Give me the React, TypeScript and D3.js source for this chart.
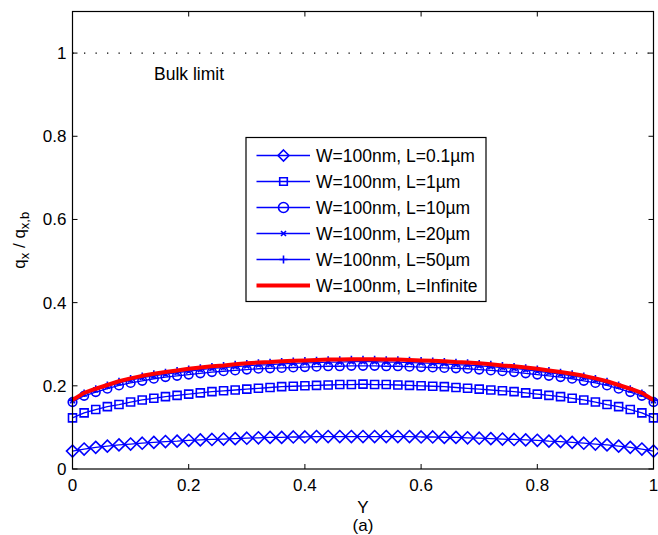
import React from 'react';
import * as d3 from 'd3';

const Y_GRID = d3.range(51).map((i) => i / 50);

const L01 = [0.043,0.048,0.052,0.055,0.058,0.060,0.062,0.064,0.066,0.067,0.069,0.070,0.071,0.072,0.073,0.074,0.075,0.076,0.076,0.077,0.077,0.078,0.078,0.078,0.078,0.078,0.078,0.078,0.078,0.078,0.077,0.077,0.076,0.076,0.075,0.074,0.073,0.072,0.071,0.070,0.069,0.067,0.066,0.064,0.062,0.060,0.058,0.055,0.052,0.048,0.043];
const L1 = [0.123,0.135,0.143,0.150,0.155,0.161,0.166,0.170,0.174,0.177,0.180,0.183,0.186,0.188,0.190,0.192,0.194,0.196,0.198,0.199,0.200,0.201,0.202,0.203,0.203,0.204,0.203,0.203,0.202,0.201,0.200,0.199,0.198,0.196,0.194,0.192,0.190,0.188,0.186,0.183,0.180,0.177,0.174,0.170,0.166,0.161,0.155,0.150,0.143,0.135,0.123];
const L10 = [0.161,0.176,0.185,0.193,0.201,0.207,0.212,0.217,0.221,0.224,0.227,0.230,0.233,0.235,0.237,0.239,0.241,0.242,0.243,0.244,0.245,0.246,0.247,0.247,0.248,0.248,0.248,0.247,0.247,0.246,0.245,0.244,0.243,0.242,0.241,0.239,0.237,0.235,0.233,0.230,0.227,0.224,0.221,0.217,0.212,0.207,0.201,0.193,0.185,0.176,0.161];
const L20 = [0.164,0.180,0.190,0.199,0.207,0.214,0.220,0.224,0.228,0.232,0.235,0.239,0.242,0.244,0.246,0.248,0.250,0.251,0.253,0.254,0.255,0.256,0.257,0.257,0.258,0.258,0.258,0.257,0.257,0.256,0.255,0.254,0.253,0.251,0.250,0.248,0.246,0.244,0.242,0.239,0.235,0.232,0.228,0.224,0.220,0.214,0.207,0.199,0.190,0.180,0.164];
const L50 = [0.165,0.182,0.192,0.201,0.210,0.217,0.223,0.228,0.232,0.236,0.240,0.243,0.246,0.248,0.251,0.253,0.255,0.256,0.258,0.259,0.260,0.261,0.262,0.262,0.263,0.263,0.263,0.262,0.262,0.261,0.260,0.259,0.258,0.256,0.255,0.253,0.251,0.248,0.246,0.243,0.240,0.236,0.232,0.228,0.223,0.217,0.210,0.201,0.192,0.182,0.165];
const LINF = [0.166,0.183,0.193,0.202,0.211,0.218,0.224,0.229,0.233,0.237,0.241,0.244,0.247,0.249,0.252,0.254,0.256,0.257,0.259,0.260,0.261,0.262,0.263,0.263,0.264,0.264,0.264,0.263,0.263,0.262,0.261,0.260,0.259,0.257,0.256,0.254,0.252,0.249,0.247,0.244,0.241,0.237,0.233,0.229,0.224,0.218,0.211,0.202,0.193,0.183,0.166];

const SERIES_LABELS = [
  'W=100nm, L=0.1µm',
  'W=100nm, L=1µm',
  'W=100nm, L=10µm',
  'W=100nm, L=20µm',
  'W=100nm, L=50µm',
  'W=100nm, L=Infinite',
];
const SERIES_VALUES = [L01, L1, L10, L20, L50, LINF];
const SERIES_MARKERS = ['diamond', 'square', 'circle', 'x', 'plus', 'none'];

const X_TICKS = [0, 0.2, 0.4, 0.6, 0.8, 1];
const Y_TICKS = [0, 0.2, 0.4, 0.6, 0.8, 1];
const BULK = 1;

const FONT = '"Liberation Sans", Arial, Helvetica, sans-serif';
const BLUE = '#0000ff';

function markerPath(type: string, s: number): string {
  switch (type) {
    case 'diamond':
      return `M0,${-s}L${s},0L0,${s}L${-s},0Z`;
    case 'square':
      return `M${-s},${-s}H${s}V${s}H${-s}Z`;
    case 'circle':
      return `M${s},0A${s},${s} 0 1,1 ${-s},0A${s},${s} 0 1,1 ${s},0Z`;
    case 'x':
      return `M${-s},${-s}L${s},${s}M${-s},${s}L${s},${-s}`;
    case 'plus':
      return `M0,${-s}V${s}M${-s},0H${s}`;
    default:
      return '';
  }
}
const MARK_SIZE: Record<string, number> = { diamond: 6, square: 4, circle: 4.3, x: 2.5, plus: 3.8 };
const LEG_SIZE: Record<string, number> = { diamond: 5.5, square: 3.8, circle: 5, x: 2.5, plus: 4 };

export default function App() {
  const W = 658, H = 535;
  const left = 72.5, right = 653.5, top = 11.5, bottom = 469;
  const x = d3.scaleLinear().domain([0, 1]).range([left, right]);
  const y = d3.scaleLinear().domain([0, 1.1]).range([bottom, top]);
  const line = d3.line<number>().x((_, i) => x(Y_GRID[i])).y((d) => y(d));
  const tick = 5;

  const legX = 246, legY = 137.5, legW = 240, legH = 164;
  const rowH = 26;

  return (
    <svg width={W} height={H} style={{ position: 'absolute', left: 0, top: 0, background: '#fff' }} fontFamily={FONT}>
      <rect x={0} y={0} width={W} height={H} fill="#fff" />
      <line x1={x(0)} x2={x(1)} y1={y(BULK)} y2={y(BULK)} stroke="#000" strokeWidth={1.3} strokeDasharray="1.3,10.2" />
      <text x={154} y={80} fontSize={17.5} fill="#000">Bulk limit</text>

      {SERIES_VALUES.map((vals, si) => {
        const isInf = SERIES_MARKERS[si] === 'none';
        const color = isInf ? '#ff0000' : BLUE;
        const m = SERIES_MARKERS[si];
        return (
          <g key={si}>
            <path d={line(vals) || ''} fill="none" stroke={color} strokeWidth={isInf ? 4 : 1.3} strokeLinejoin="round" />
            {!isInf && vals.map((v, i) => (
              <path key={i} transform={`translate(${x(Y_GRID[i])},${y(v)})`} d={markerPath(m, MARK_SIZE[m])} fill="none" stroke={BLUE} strokeWidth={1.6} />
            ))}
          </g>
        );
      })}

      <rect x={left} y={top} width={right - left} height={bottom - top} fill="none" stroke="#000" strokeWidth={1.2} />
      {X_TICKS.map((t) => (
        <g key={'x' + t}>
          <line x1={x(t)} x2={x(t)} y1={bottom} y2={bottom - tick} stroke="#000" strokeWidth={1} />
          <line x1={x(t)} x2={x(t)} y1={top} y2={top + tick} stroke="#000" strokeWidth={1} />
          <text x={x(t)} y={491} fontSize={17} textAnchor="middle" fill="#000">{d3.format('~g')(t)}</text>
        </g>
      ))}
      {Y_TICKS.map((t) => (
        <g key={'y' + t}>
          <line x1={left} x2={left + tick} y1={y(t)} y2={y(t)} stroke="#000" strokeWidth={1} />
          <line x1={right} x2={right - tick} y1={y(t)} y2={y(t)} stroke="#000" strokeWidth={1} />
          <text x={66.5} y={y(t) + 6} fontSize={17} textAnchor="end" fill="#000">{d3.format('~g')(t)}</text>
        </g>
      ))}

      <text x={363} y={513} fontSize={17} textAnchor="middle" fill="#000">Y</text>
      <text x={363} y={531} fontSize={17} textAnchor="middle" fill="#000">(a)</text>
      <text transform={`translate(25,${(top + bottom) / 2}) rotate(-90)`} fontSize={17} textAnchor="middle" fill="#000">
        <tspan>q</tspan>
        <tspan fontSize={13} dy={4}>x</tspan>
        <tspan dy={-4}> / q</tspan>
        <tspan fontSize={13} dy={4}>x,b</tspan>
      </text>

      <rect x={legX} y={legY} width={legW} height={legH} fill="#fff" stroke="#000" strokeWidth={1.2} />
      {SERIES_LABELS.map((lab, i) => {
        const cy = 155.5 + i * rowH;
        const m = SERIES_MARKERS[i];
        const isInf = m === 'none';
        return (
          <g key={lab}>
            <line x1={256.5} x2={310} y1={cy} y2={cy} stroke={isInf ? '#ff0000' : BLUE} strokeWidth={isInf ? 4 : 1.3} />
            {!isInf && (
              <path transform={`translate(283.5,${cy})`} d={markerPath(m, LEG_SIZE[m])} fill="none" stroke={BLUE} strokeWidth={1.6} />
            )}
            <text x={316} y={cy + 6} fontSize={17.5} fill="#000">{lab}</text>
          </g>
        );
      })}
    </svg>
  );
}
